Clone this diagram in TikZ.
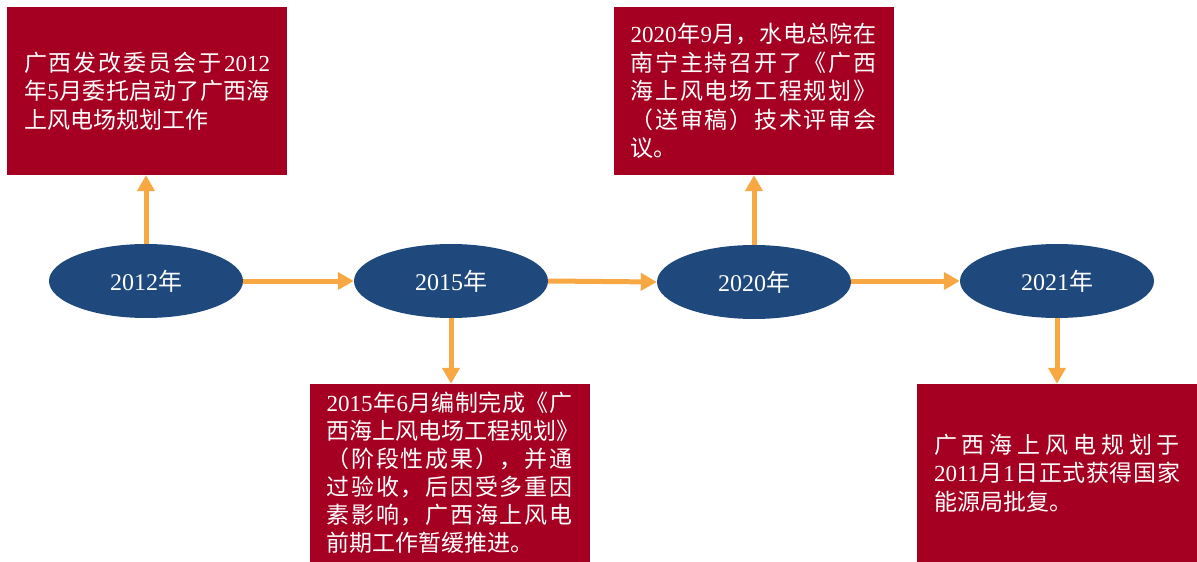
\documentclass[tikz,border=0pt]{standalone}
\usepackage{fontspec}
\setmainfont{Liberation Serif}
\newfontfamily\cjkfont{Noto Sans CJK SC}
\usetikzlibrary{shapes.geometric,arrows.meta}
\XeTeXinterchartokenstate=1
\newXeTeXintercharclass\CJKcls
\newcount\cjkcnt
\def\setcjkrange#1#2{\cjkcnt=#1\relax\loop\XeTeXcharclass\cjkcnt=\CJKcls\relax\ifnum\cjkcnt<#2\relax\advance\cjkcnt by 1\relax\repeat}
\setcjkrange{"3000}{"303F}
\setcjkrange{"4E00}{"9FFF}
\setcjkrange{"FF00}{"FFEF}
\XeTeXinterchartoks 0 \CJKcls={\cjkfont\hskip0pt plus 1fil\relax}
\XeTeXinterchartoks 4095 \CJKcls={\cjkfont}
\XeTeXinterchartoks \CJKcls 0={\hskip0pt plus 1fil\relax\rmfamily}
\XeTeXinterchartoks \CJKcls 4095={\rmfamily}
\XeTeXinterchartoks \CJKcls \CJKcls={\hskip0pt plus 1fil\relax}
\definecolor{boxred}{RGB}{165,0,33}
\definecolor{ellblue}{RGB}{31,73,125}
\definecolor{arrowor}{RGB}{247,168,67}
\newcommand\fullln[1]{\hbox to 246pt{#1}}
\newcommand\lastln[1]{\hbox{#1}}
\tikzset{
  redbox/.style={rectangle, fill=boxred, minimum width=280pt, inner sep=0pt, text=white, font=\fontsize{23}{28.5}\selectfont},
  yearnode/.style={ellipse, fill=ellblue, minimum width=194pt, minimum height=74pt, inner sep=0pt, text=white, font=\fontsize{24}{28}\selectfont},
  conn/.style={draw=arrowor, line width=5pt, -{Triangle[length=16pt,width=17pt]}}
}
\begin{document}
\begin{tikzpicture}[x=1pt,y=-1pt]
\useasboundingbox (0,0) rectangle (1197,562);
\node[redbox, minimum height=168pt] (b1) at (147,91) {\vbox{\baselineskip=28.5pt
\fullln{广西发改委员会于2012}%
\fullln{年5月委托启动了广西海}%
\lastln{上风电场规划工作}}};
\node[redbox, minimum height=168pt] (b2) at (753.5,91) {\vbox{\baselineskip=28.5pt
\fullln{2020年9月，水电总院在}%
\fullln{南宁主持召开了《广西}%
\fullln{海上风电场工程规划》}%
\fullln{（送审稿）技术评审会}%
\lastln{议。}}};
\node[redbox, minimum height=178pt] (b3) at (449.5,473) {\vbox{\baselineskip=28pt
\fullln{2015年6月编制完成《广}%
\fullln{西海上风电场工程规划》}%
\fullln{（阶段性成果），并通}%
\fullln{过验收，后因受多重因}%
\fullln{素影响，广西海上风电}%
\lastln{前期工作暂缓推进。}}};
\node[redbox, minimum height=178pt] (b4) at (1057,473) {\vbox{\baselineskip=28.5pt
\fullln{广西海上风电规划于}%
\fullln{2011月1日正式获得国家}%
\lastln{能源局批复。}}};
\node[yearnode] (e1) at (146,281) {2012年};
\node[yearnode] (e2) at (451,281) {2015年};
\node[yearnode] (e3) at (754,282) {2020年};
\node[yearnode] (e4) at (1057,281) {2021年};
\draw[conn] (e1.north) -- (e1.north |- b1.south);
\draw[conn] (e2.south) -- (e2.south |- b3.north);
\draw[conn] (e3.north) -- (e3.north |- b2.south);
\draw[conn] (e4.south) -- (e4.south |- b4.north);
\draw[conn] (e1.east) -- (e2.west);
\draw[conn] (e2.east) -- (e3.west);
\draw[conn] (e3.east |- e4.west) -- (e4.west);
\end{tikzpicture}
\end{document}
